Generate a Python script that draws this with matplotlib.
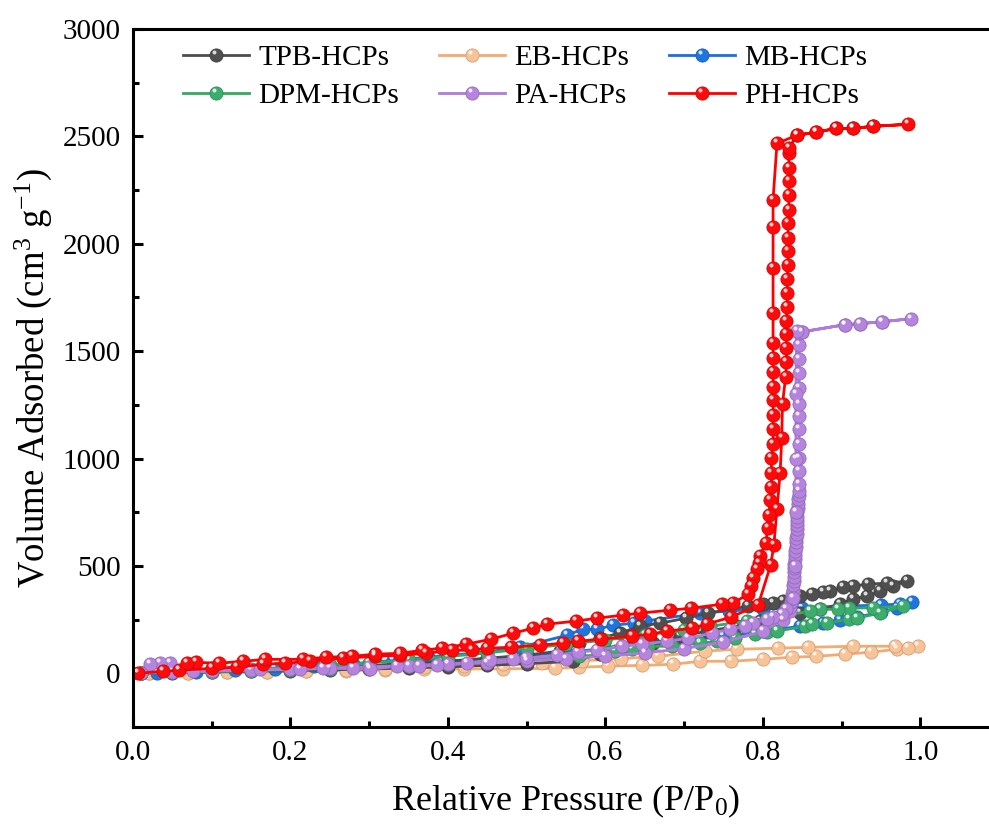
import numpy as np
import matplotlib
matplotlib.use("Agg")
import matplotlib.pyplot as plt
from matplotlib.path import Path
from matplotlib.ticker import MultipleLocator, FormatStrFormatter
from matplotlib.colors import to_rgb

plt.rcParams['font.family'] = ['Liberation Serif', 'DejaVu Serif']
plt.rcParams['mathtext.fontset'] = 'custom'
plt.rcParams['mathtext.rm'] = 'Liberation Serif'
plt.rcParams['mathtext.it'] = 'Liberation Serif:italic'

# ---- data: adsorption (low -> high P/P0) and desorption (high -> low) ----
tpb_ads_x = [0.010, 0.050, 0.100, 0.150, 0.200, 0.250, 0.300, 0.350, 0.400, 0.450, 0.500, 0.559, 0.593,
             0.627, 0.661, 0.695, 0.729, 0.767, 0.797, 0.825, 0.847, 0.872, 0.898, 0.914, 0.932, 0.949,
             0.965, 0.983]
tpb_ads_y = [1, 3, 6, 9, 12, 16, 20, 25, 30, 37, 45, 56, 89, 117, 140, 173, 196, 219, 243, 266, 280, 298,
             322, 345, 359, 382, 406, 429]
tpb_des_x = [0.958, 0.933, 0.914, 0.902, 0.885, 0.876, 0.862, 0.847, 0.825, 0.813, 0.800, 0.781, 0.730,
             0.703, 0.669, 0.644, 0.618, 0.593, 0.567, 0.542, 0.500, 0.450, 0.400, 0.350, 0.300, 0.250,
             0.200, 0.150, 0.100, 0.050, 0.010]
tpb_des_y = [420, 415, 406, 401, 382, 378, 368, 359, 336, 326, 322, 312, 280, 257, 233, 219, 187, 163, 140,
             103, 85, 70, 57, 45, 35, 27, 20, 14, 9, 5, 2]

eb_ads_x = [0.020, 0.070, 0.120, 0.170, 0.220, 0.270, 0.320, 0.370, 0.420, 0.470, 0.536, 0.567, 0.603,
            0.646, 0.686, 0.720, 0.760, 0.800, 0.837, 0.868, 0.904, 0.937, 0.970, 0.997]
eb_ads_y = [0, 2, 4, 6, 9, 12, 15, 18, 20, 21, 23, 28, 33, 37, 42, 56, 56, 65, 75, 79, 89, 98, 112, 126]
eb_des_x = [0.984, 0.968, 0.915, 0.857, 0.819, 0.767, 0.726, 0.667, 0.620, 0.570, 0.520, 0.470, 0.420,
            0.370, 0.320, 0.270, 0.220, 0.170, 0.120, 0.070, 0.020]
eb_des_y = [117, 126, 126, 121, 117, 112, 103, 79, 68, 58, 50, 42, 35, 28, 22, 17, 12, 8, 5, 3, 1]

mb_ads_x = [0.010, 0.050, 0.100, 0.150, 0.200, 0.250, 0.300, 0.350, 0.400, 0.450, 0.500, 0.550, 0.600,
            0.650, 0.700, 0.750, 0.800, 0.847, 0.876, 0.898, 0.920, 0.950, 0.970, 0.989]
mb_ads_y = [2, 5, 9, 14, 20, 27, 35, 44, 55, 68, 82, 98, 115, 133, 152, 172, 195, 219, 233, 247, 262, 285,
            305, 330]
mb_des_x = [0.974, 0.950, 0.900, 0.850, 0.800, 0.757, 0.720, 0.650, 0.637, 0.610, 0.590, 0.571, 0.551,
            0.491, 0.450, 0.375, 0.330, 0.280, 0.230, 0.180, 0.130, 0.080, 0.030]
mb_des_y = [322, 318, 312, 306, 300, 290, 280, 243, 233, 224, 205, 205, 177, 121, 100, 75, 60, 45, 32, 22,
            14, 8, 3]

dpm_ads_x = [0.010, 0.050, 0.100, 0.150, 0.200, 0.250, 0.300, 0.350, 0.400, 0.450, 0.500, 0.567, 0.600,
             0.612, 0.634, 0.654, 0.685, 0.720, 0.742, 0.765, 0.790, 0.805, 0.818, 0.853, 0.863, 0.881,
             0.910, 0.919, 0.949, 0.978]
dpm_ads_y = [1, 4, 8, 12, 17, 22, 28, 35, 43, 52, 62, 79, 89, 103, 112, 126, 126, 140, 149, 163, 182, 191,
             196, 219, 229, 233, 252, 257, 280, 312]
dpm_des_x = [0.940, 0.910, 0.895, 0.872, 0.860, 0.822, 0.805, 0.780, 0.733, 0.700, 0.650, 0.600, 0.550,
             0.500, 0.450, 0.400, 0.350, 0.300, 0.250, 0.200, 0.150, 0.100, 0.050, 0.010]
dpm_des_y = [305, 303, 298, 298, 289, 266, 257, 243, 219, 200, 178, 155, 135, 115, 95, 78, 62, 48, 37, 27,
             19, 12, 6, 2]

pa_ads_x = [0.010, 0.050, 0.100, 0.150, 0.200, 0.250, 0.300, 0.350, 0.400, 0.450, 0.500, 0.550, 0.600,
            0.650, 0.700, 0.750, 0.800, 0.825,
            0.834, 0.835, 0.836, 0.837, 0.837, 0.838, 0.838, 0.839, 0.839, 0.840, 0.840, 0.840, 0.841,
            0.841, 0.841, 0.842, 0.842, 0.842, 0.843, 0.843, 0.843, 0.844, 0.844, 0.844, 0.845, 0.845,
            0.845, 0.846, 0.846, 0.846,
            0.846, 0.846, 0.846, 0.846, 0.846, 0.846, 0.846, 0.846, 0.846, 0.846, 0.846,
            0.850, 0.904, 0.923, 0.952, 0.988]
pa_ads_y = [3, 8, 12, 16, 20, 25, 30, 36, 42, 50, 58, 68, 80, 95, 115, 145, 195, 250,
            290, 310, 330, 350, 370, 390, 410, 430, 450, 470, 490, 510, 530, 550, 570, 590, 610, 630, 650,
            670, 690, 710, 730, 750, 770, 790, 810, 830, 850, 880,
            942, 1003, 1068, 1138, 1199, 1255, 1329, 1399, 1464, 1530, 1586,
            1590, 1623, 1628, 1637, 1651]
pa_des_x = [0.952, 0.923, 0.904, 0.850, 0.843, 0.842, 0.842, 0.842, 0.841, 0.838, 0.830, 0.824, 0.813,
            0.805, 0.787, 0.777, 0.758, 0.735, 0.705, 0.678, 0.646, 0.621, 0.589, 0.565, 0.538, 0.499,
            0.483, 0.453, 0.424, 0.386, 0.363, 0.335, 0.301, 0.279, 0.241, 0.212, 0.161, 0.076, 0.047,
            0.034, 0.022]
pa_des_y = [1637, 1628, 1623, 1590, 1595, 1300, 1000, 750, 500, 350, 298, 275, 261, 252, 233, 219, 205,
            187, 163, 149, 135, 126, 107, 98, 84, 70, 65, 61, 47, 37, 33, 33, 19, 23, 23, 19, 19, 9, 47,
            47, 42]

ph_ads_x = [0.006, 0.038, 0.058, 0.100, 0.132, 0.165, 0.193, 0.225, 0.267, 0.307, 0.339, 0.372, 0.405,
            0.430, 0.450, 0.480, 0.517, 0.546, 0.565, 0.594, 0.634, 0.657, 0.678, 0.710, 0.729, 0.759,
            0.794, 0.810, 0.814, 0.818, 0.822, 0.824, 0.825, 0.829,
            0.830, 0.830, 0.830, 0.830, 0.831, 0.831, 0.831, 0.832, 0.832, 0.832, 0.832,
            0.833, 0.833, 0.833, 0.833, 0.833, 0.833,
            0.843, 0.867, 0.893, 0.914, 0.940, 0.984]
ph_ads_y = [0, 9, 14, 23, 28, 42, 47, 56, 70, 79, 84, 93, 107, 107, 117, 121, 131, 140, 149, 159, 173, 182,
            196, 210, 229, 261, 317, 504, 597, 765, 933, 1096, 1255, 1381,
            1450, 1516, 1581, 1642, 1707, 1772, 1838, 1903, 1968, 2029, 2099,
            2159, 2225, 2290, 2355, 2421, 2444,
            2505, 2519, 2537, 2537, 2547, 2556]
ph_des_x = [0.940, 0.914, 0.893, 0.867, 0.843, 0.818,
            0.813, 0.813, 0.813, 0.813, 0.813, 0.813, 0.813, 0.813, 0.813, 0.813, 0.813, 0.813,
            0.811, 0.811, 0.811, 0.809, 0.808, 0.806, 0.804, 0.796, 0.795, 0.792, 0.787, 0.785, 0.781,
            0.762, 0.748, 0.709, 0.682, 0.644, 0.623, 0.590, 0.563, 0.526, 0.508, 0.483, 0.455, 0.423,
            0.392, 0.367, 0.339, 0.307, 0.278, 0.245, 0.216, 0.168, 0.140, 0.109, 0.080, 0.069]
ph_des_y = [2547, 2537, 2537, 2519, 2505, 2467,
            2206, 2080, 1889, 1679, 1539, 1469, 1404, 1334, 1273, 1203, 1138, 1068,
            1003, 933, 868, 807, 737, 676, 606, 546, 513, 485, 443, 406, 368,
            326, 322, 303, 294, 280, 271, 257, 243, 229, 210, 187, 159, 135, 117, 107, 93, 89, 79, 75,
            65, 65, 56, 47, 51, 47]

# name, ads x/y, des x/y, line colour, ball colour  (drawing order)
series = [
    ('EB-HCPs', eb_ads_x, eb_ads_y, eb_des_x, eb_des_y, '#F5AA70', '#F9C398'),
    ('MB-HCPs', mb_ads_x, mb_ads_y, mb_des_x, mb_des_y, '#1A6FDC', '#1F74E0'),
    ('TPB-HCPs', tpb_ads_x, tpb_ads_y, tpb_des_x, tpb_des_y, '#4D4D4D', '#4F4F4F'),
    ('DPM-HCPs', dpm_ads_x, dpm_ads_y, dpm_des_x, dpm_des_y, '#35A865', '#3BAD6C'),
    ('PA-HCPs', pa_ads_x, pa_ads_y, pa_des_x, pa_des_y, '#B07CDB', '#B484DE'),
    ('PH-HCPs', ph_ads_x, ph_ads_y, ph_des_x, ph_des_y, '#FF0000', '#FF0A0A'),
]
legend_order = ['TPB-HCPs', 'DPM-HCPs', 'EB-HCPs', 'PA-HCPs', 'MB-HCPs', 'PH-HCPs']

# small white spot up-left of each ball, gives the shaded sphere look
spot = Path.circle(center=(-0.2, 0.3), radius=0.2)

fig = plt.figure(figsize=(9.89, 8.32), dpi=100)
ax = fig.add_axes([133 / 989, 105 / 832, 866 / 989, 698 / 832])
ax.set_xlim(0, 1.1)
ax.set_ylim(-250, 3000)

handles = {}
for name, ax_x, ax_y, de_x, de_y, lc, mc in series:
    x = np.array(list(ax_x) + list(de_x))
    y = np.array(list(ax_y) + list(de_y))
    edge = tuple(c * 0.82 for c in to_rgb(mc))
    ln, = ax.plot(x, y, '-o', color=lc, lw=2.0, ms=9.5, mfc=mc, mec=edge, mew=0.6)
    # a ball drawn right after on top of it hides the spot (packed runs look solid)
    pix = ax.transData.transform(np.column_stack([x, y]))
    gap = np.hypot(*(pix[1:] - pix[:-1]).T)
    keep = np.append(gap > 6, True)
    hl, = ax.plot(x[keep], y[keep], linestyle='none', marker=spot, ms=7.2, mfc='white', mec='none',
                  alpha=0.8)
    handles[name] = (ln, hl)

ax.xaxis.set_major_locator(MultipleLocator(0.2))
ax.xaxis.set_minor_locator(MultipleLocator(0.1))
ax.xaxis.set_major_formatter(FormatStrFormatter('%.1f'))
ax.yaxis.set_major_locator(MultipleLocator(500))
ax.yaxis.set_minor_locator(MultipleLocator(250))
ax.tick_params(which='both', direction='in', top=False, right=False, width=2.2, labelsize=21)
ax.tick_params(which='major', length=7, pad=9)
ax.tick_params(which='minor', length=4)
for s in ['left', 'bottom', 'top']:
    ax.spines[s].set_linewidth(2.2)
ax.spines['right'].set_visible(False)

ax.set_xlabel('Relative Pressure (P/P$_{0}$)', fontsize=26, labelpad=12)
ax.set_ylabel('Volume Adsorbed (cm$^{3}$ g$^{-1}$)', fontsize=26.5, labelpad=6)

ax.legend([handles[n] for n in legend_order], legend_order, ncol=3, loc='upper left',
          bbox_to_anchor=(0.058, 0.977), frameon=False, fontsize=21, handlelength=2.27,
          handletextpad=0.3, columnspacing=1.38, labelspacing=0.38, borderpad=0, borderaxespad=0)

fig.savefig('out.png', dpi=100)
